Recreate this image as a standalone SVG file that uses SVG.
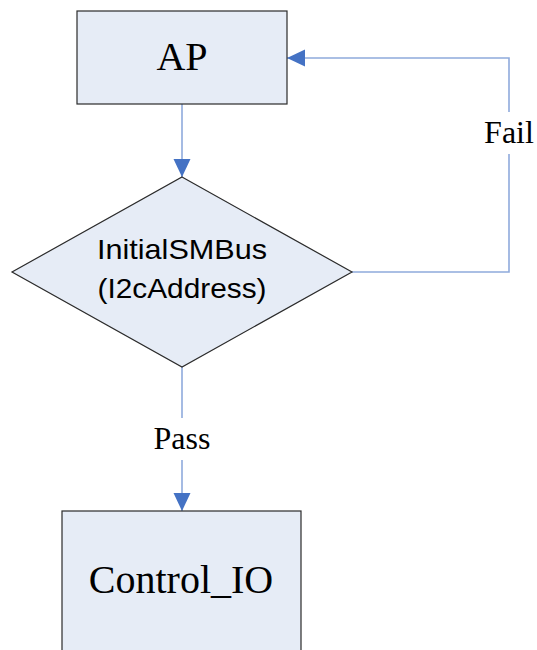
<svg xmlns="http://www.w3.org/2000/svg" width="537" height="650" viewBox="0 0 537 650">
  <defs>
    <style>
      .box { fill: #E6ECF6; stroke: #2B2B2B; stroke-width: 1.2; }
      .wire { fill: none; stroke: #8FAADC; stroke-width: 1.6; }
      .serif { font-family: "Liberation Serif", "Times New Roman", serif; fill: #000; text-anchor: middle; }
      .sans { font-family: "Liberation Sans", Arial, sans-serif; fill: #000; text-anchor: middle; }
    </style>
    <marker id="arrow" markerUnits="userSpaceOnUse" markerWidth="18" markerHeight="18" refX="18" refY="8.5" orient="auto">
      <path d="M0,0 L18,8.5 L0,17 Z" fill="#4472C4"/>
    </marker>
  </defs>

  <rect width="537" height="650" fill="#FFFFFF"/>

  <g id="connectors">
    <!-- AP to decision -->
    <path class="wire" d="M182,104 L182,177" marker-end="url(#arrow)"/>
    <!-- decision fails: loop back to AP -->
    <path class="wire" d="M352,272 L509,272 L509,154"/>
    <path class="wire" d="M509,112 L509,58 L287,58" marker-end="url(#arrow)"/>
    <text class="serif" x="509" y="143" font-size="32">Fail</text>
    <!-- decision passes -->
    <path class="wire" d="M182,367 L182,418"/>
    <path class="wire" d="M182,460 L182,511" marker-end="url(#arrow)"/>
    <text class="serif" x="182" y="449" font-size="32">Pass</text>
  </g>

  <g id="ap">
    <rect class="box" x="77" y="11" width="210" height="93"/>
    <text class="serif" x="182" y="70" font-size="40">AP</text>
  </g>

  <g id="initial-smbus">
    <polygon class="box" points="182,177 352,272 182,367 12,272"/>
    <text class="sans" x="182" y="259" font-size="28" textLength="170" lengthAdjust="spacingAndGlyphs">InitialSMBus</text>
    <text class="sans" x="182" y="298" font-size="28" textLength="169" lengthAdjust="spacingAndGlyphs">(I2cAddress)</text>
  </g>

  <g id="control-io">
    <rect class="box" x="62" y="511" width="239" height="150"/>
    <text class="serif" x="181" y="593" font-size="40">Control_IO</text>
  </g>
</svg>
